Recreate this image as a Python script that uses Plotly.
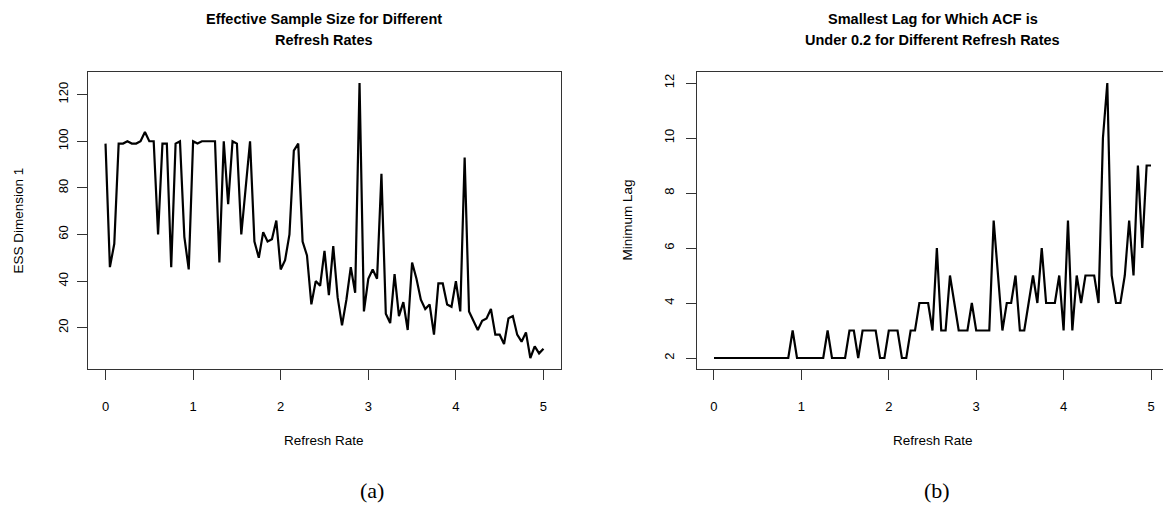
import plotly.graph_objects as go

refresh_rate = [0.00, 0.05, 0.10, 0.15, 0.20, 0.25, 0.30, 0.35, 0.40, 0.45,
                0.50, 0.55, 0.60, 0.65, 0.70, 0.75, 0.80, 0.85, 0.90, 0.95,
                1.00, 1.05, 1.10, 1.15, 1.20, 1.25, 1.30, 1.35, 1.40, 1.45,
                1.50, 1.55, 1.60, 1.65, 1.70, 1.75, 1.80, 1.85, 1.90, 1.95,
                2.00, 2.05, 2.10, 2.15, 2.20, 2.25, 2.30, 2.35, 2.40, 2.45,
                2.50, 2.55, 2.60, 2.65, 2.70, 2.75, 2.80, 2.85, 2.90, 2.95,
                3.00, 3.05, 3.10, 3.15, 3.20, 3.25, 3.30, 3.35, 3.40, 3.45,
                3.50, 3.55, 3.60, 3.65, 3.70, 3.75, 3.80, 3.85, 3.90, 3.95,
                4.00, 4.05, 4.10, 4.15, 4.20, 4.25, 4.30, 4.35, 4.40, 4.45,
                4.50, 4.55, 4.60, 4.65, 4.70, 4.75, 4.80, 4.85, 4.90, 4.95,
                5.00]

ess_dim1 = [99, 46, 56, 99, 99, 100, 99, 99, 100, 104,
            100, 100, 60, 99, 99, 46, 99, 100, 59, 45,
            100, 99, 100, 100, 100, 100, 48, 100, 73, 100,
            99, 60, 80, 100, 57, 50, 61, 57, 58, 66,
            45, 49, 60, 96, 99, 57, 51, 30, 40, 38,
            53, 34, 55, 33, 21, 32, 46, 35, 125, 27,
            41, 45, 41, 86, 26, 22, 43, 25, 31, 19,
            48, 41, 32, 28, 30, 17, 39, 39, 30, 29,
            40, 27, 93, 27, 23, 19, 23, 24, 28, 17,
            17, 13, 24, 25, 17, 14, 18, 7, 12, 9,
            11]

min_lag = [2, 2, 2, 2, 2, 2, 2, 2, 2, 2,
           2, 2, 2, 2, 2, 2, 2, 2, 3, 2,
           2, 2, 2, 2, 2, 2, 3, 2, 2, 2,
           2, 3, 3, 2, 3, 3, 3, 3, 2, 2,
           3, 3, 3, 2, 2, 3, 3, 4, 4, 4,
           3, 6, 3, 3, 5, 4, 3, 3, 3, 4,
           3, 3, 3, 3, 7, 5, 3, 4, 4, 5,
           3, 3, 4, 5, 4, 6, 4, 4, 4, 5,
           3, 7, 3, 5, 4, 5, 5, 5, 4, 10,
           12, 5, 4, 4, 5, 7, 5, 9, 6, 9,
           9]

x_ticks = [0, 1, 2, 3, 4, 5]
ess_ticks = [20, 40, 60, 80, 100, 120]
lag_ticks = [2, 4, 6, 8, 10, 12]

W, H = 1163, 516
FONT = "Liberation Sans, Arial, Helvetica, sans-serif"


def px_x(p):
    return p / W


def px_y(p):
    return 1 - p / H


fig = go.Figure()
fig.add_trace(go.Scatter(x=refresh_rate, y=ess_dim1, mode="lines",
                         line=dict(color="black", width=2.2),
                         xaxis="x", yaxis="y", showlegend=False))
fig.add_trace(go.Scatter(x=refresh_rate, y=min_lag, mode="lines",
                         line=dict(color="black", width=2.2),
                         xaxis="x2", yaxis="y2", showlegend=False))

box_top, box_bot = 72, 369
L_left, L_right = 88, 561
R_left = 696.5

axis_common = dict(showgrid=False, zeroline=False, ticks="outside", ticklen=10,
                   tickwidth=1, tickcolor="#333", showline=True, linecolor="#333",
                   linewidth=1, tickfont=dict(family=FONT, size=13, color="black"))

fig.update_layout(
    width=W, height=H,
    margin=dict(l=0, r=0, t=0, b=0, autoexpand=False),
    paper_bgcolor="white", plot_bgcolor="white",
    xaxis=dict(domain=[px_x(L_left), px_x(L_right)], range=[-0.2, 5.2],
               tickvals=x_ticks, anchor="y", mirror=True,
               ticklabelstandoff=15, **axis_common),
    yaxis=dict(domain=[px_y(box_bot), px_y(box_top)], range=[2.28, 129.72],
               tickvals=ess_ticks, anchor="x", mirror=True, tickangle=-90,
               ticklabelstandoff=4, **axis_common),
    xaxis2=dict(domain=[px_x(R_left), 1.0], range=[-0.2, (W - 714) / 87.4],
                tickvals=x_ticks, anchor="y2", mirror=True,
                ticklabelstandoff=15, **axis_common),
    yaxis2=dict(domain=[px_y(box_bot), px_y(box_top)], range=[1.6, 12.4],
                tickvals=lag_ticks, anchor="x2", mirror=False, tickangle=-90,
                ticklabelstandoff=6, **axis_common),
)

annos = []
title_font = dict(family=FONT, size=14.5, color="black")
label_font = dict(family=FONT, size=13.5, color="black")
for cx, l1, l2 in [((L_left + L_right) / 2, "Effective Sample Size for Different", "Refresh Rates"),
                   ((R_left + 1168.5) / 2, "Smallest Lag for Which ACF is", "Under 0.2 for Different Refresh Rates")]:
    annos.append(dict(x=px_x(cx), y=px_y(19), xref="paper", yref="paper", text="<b>%s</b>" % l1,
                      showarrow=False, font=title_font, xanchor="center", yanchor="middle"))
    annos.append(dict(x=px_x(cx), y=px_y(40), xref="paper", yref="paper", text="<b>%s</b>" % l2,
                      showarrow=False, font=title_font, xanchor="center", yanchor="middle"))
    annos.append(dict(x=px_x(cx), y=px_y(440), xref="paper", yref="paper", text="Refresh Rate",
                      showarrow=False, font=label_font, xanchor="center", yanchor="middle"))

annos.append(dict(x=px_x(18), y=px_y((box_top + box_bot) / 2), xref="paper", yref="paper",
                  text="ESS Dimension 1", textangle=-90, showarrow=False, font=label_font,
                  xanchor="center", yanchor="middle"))
annos.append(dict(x=px_x(627), y=px_y((box_top + box_bot) / 2), xref="paper", yref="paper",
                  text="Minimum Lag", textangle=-90, showarrow=False, font=label_font,
                  xanchor="center", yanchor="middle"))

cap_font = dict(family="Liberation Serif, Times New Roman, serif", size=22, color="black")
annos.append(dict(x=px_x(372), y=px_y(490), xref="paper", yref="paper", text="(a)",
                  showarrow=False, font=cap_font, xanchor="center", yanchor="middle"))
annos.append(dict(x=px_x(937), y=px_y(490), xref="paper", yref="paper", text="(b)",
                  showarrow=False, font=cap_font, xanchor="center", yanchor="middle"))

fig.update_layout(annotations=annos)
fig.write_html("out.html", config={"displayModeBar": False},
               post_script="document.body.style.margin='0px';document.body.style.overflow='hidden';")
